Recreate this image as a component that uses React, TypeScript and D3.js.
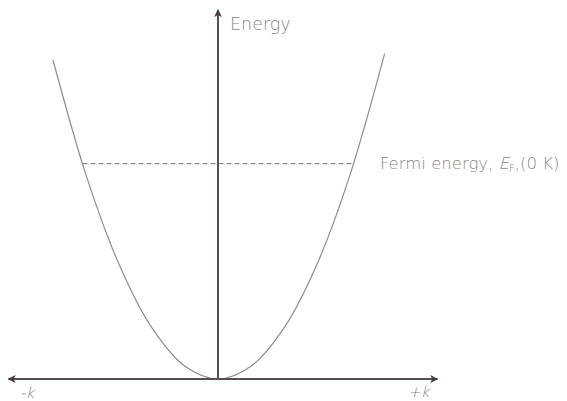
import { useEffect, useRef } from "react";
import * as d3 from "d3";

// band points: wave vector k and energy E (arbitrary units)
const kPoints = [-1, -0.8, -0.6, -0.4, -0.2, 0, 0.2, 0.4, 0.6, 0.8, 1.01];
const energyPoints = [1, 0.64, 0.36, 0.16, 0.04, 0, 0.04, 0.16, 0.36, 0.64, 1.02];
const fermiEnergy = 0.675;
const kRange = [-1.27, 1.33];
const energyTop = 1.157;
const labels = { y: "Energy", fermi: "Fermi energy, ", kMinus: "-k", kPlus: "+k" };

export default function App() {
  const ref = useRef<SVGSVGElement>(null);

  useEffect(() => {
    if (!ref.current) return;
    const svg = d3.select(ref.current);
    svg.selectAll("*").remove();

    const x = d3.scaleLinear().domain([-1, 1]).range([53, 383]);
    const y = d3.scaleLinear().domain([0, 1]).range([379, 60]);

    const axisColor = "#5b4d58";
    const textColor = "#8a8587";
    const font = "'DejaVu Sans Light', 'DejaVu Sans', sans-serif";

    const defs = svg.append("defs");
    defs.append("marker")
      .attr("id", "arrow")
      .attr("viewBox", "0 0 10 10")
      .attr("refX", 9)
      .attr("refY", 5)
      .attr("markerWidth", 8)
      .attr("markerHeight", 8)
      .attr("markerUnits", "userSpaceOnUse")
      .attr("orient", "auto-start-reverse")
      .append("path")
      .attr("d", "M0,0 L10,5 L0,10 L2.5,5 Z")
      .attr("fill", "#4a3a47");

    // dashed fermi level
    const kf = Math.sqrt(fermiEnergy);
    svg.append("line")
      .attr("x1", x(-kf)).attr("x2", x(kf))
      .attr("y1", y(fermiEnergy)).attr("y2", y(fermiEnergy))
      .attr("stroke", "#77727a")
      .attr("stroke-width", 1)
      .attr("stroke-dasharray", "5,3");

    // band curve
    const pts: [number, number][] = kPoints.map((k, i) => [k, energyPoints[i]]);
    const line = d3.line<[number, number]>()
      .x((d) => x(d[0]))
      .y((d) => y(d[1]))
      .curve(d3.curveCatmullRom.alpha(0.5));
    svg.append("path")
      .attr("d", line(pts) || "")
      .attr("fill", "none")
      .attr("stroke", "#948a8d")
      .attr("stroke-width", 1.2);

    // axes
    svg.append("line")
      .attr("x1", x(0)).attr("x2", x(0))
      .attr("y1", y(0) + 1).attr("y2", y(energyTop))
      .attr("stroke", axisColor).attr("stroke-width", 2)
      .attr("marker-end", "url(#arrow)");
    svg.append("line")
      .attr("x1", x(kRange[0])).attr("x2", x(kRange[1]))
      .attr("y1", y(0)).attr("y2", y(0))
      .attr("stroke", axisColor).attr("stroke-width", 2)
      .attr("marker-start", "url(#arrow)")
      .attr("marker-end", "url(#arrow)");

    // labels
    svg.append("text")
      .attr("x", x(0) + 12).attr("y", 30)
      .attr("font-family", font).attr("font-weight", 200)
      .attr("font-size", 17.5).attr("fill", textColor)
      .text(labels.y);

    const ft = svg.append("text")
      .attr("x", 380).attr("y", y(fermiEnergy) + 5)
      .attr("font-family", font).attr("font-weight", 200)
      .attr("font-size", 16.5).attr("fill", textColor);
    ft.append("tspan").text(labels.fermi);
    ft.append("tspan").attr("font-style", "italic").text("E");
    ft.append("tspan").attr("font-size", 10).attr("dy", 3).text("F");
    ft.append("tspan").attr("dy", -3).text(",(0 K)");

    svg.append("text")
      .attr("x", 20).attr("y", 398)
      .attr("font-family", font).attr("font-weight", 200).attr("font-style", "italic")
      .attr("font-size", 15).attr("fill", textColor)
      .text(labels.kMinus);
    svg.append("text")
      .attr("x", 408).attr("y", 397)
      .attr("font-family", font).attr("font-weight", 200).attr("font-style", "italic")
      .attr("font-size", 15).attr("fill", textColor)
      .text(labels.kPlus);
  }, []);

  return (
    <svg
      ref={ref}
      width={567}
      height={401}
      style={{ position: "absolute", left: 0, top: 0, background: "#fff" }}
    />
  );
}
